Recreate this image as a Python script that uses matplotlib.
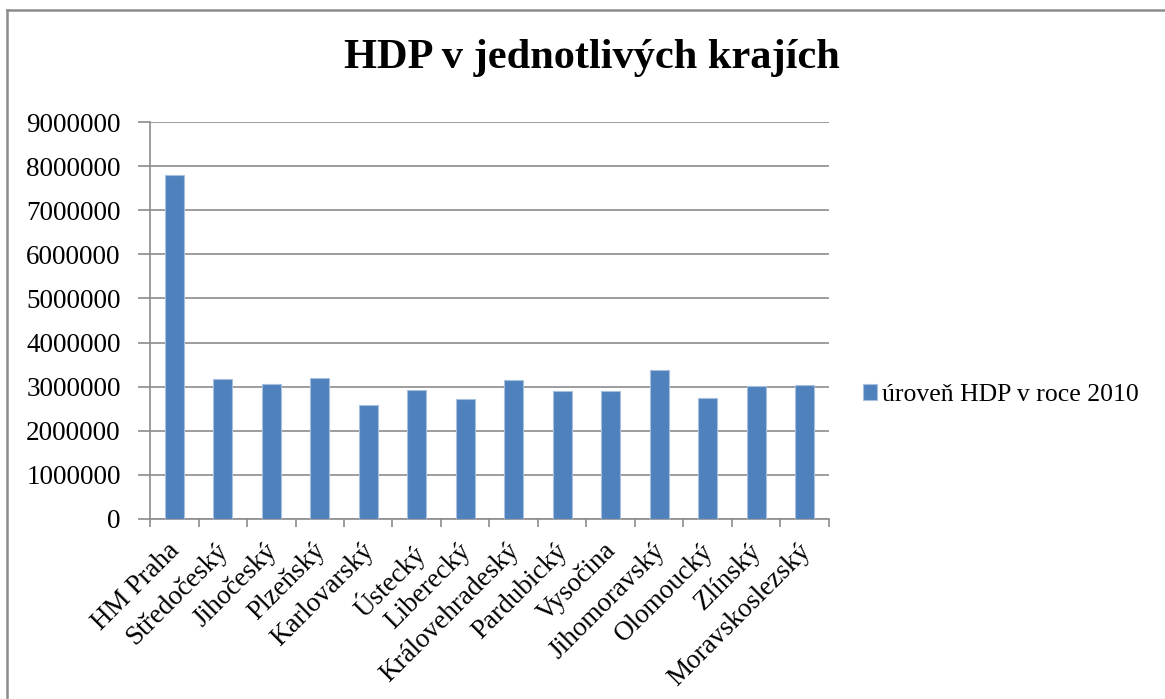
import numpy as np
import matplotlib.pyplot as plt
import matplotlib.transforms as mtransforms
from matplotlib.lines import Line2D

# ---------------- DATA ----------------
kraje = ["HM Praha", "Středočeský", "Jihočeský", "Plzeňský", "Karlovarský",
         "Ústecký", "Liberecký", "Královehradeský", "Pardubický", "Vysočina",
         "Jihomoravský", "Olomoucký", "Zlínský", "Moravskoslezský"]
hdp_2010 = [7790000, 3170000, 3070000, 3190000, 2590000,
            2930000, 2730000, 3150000, 2910000, 2910000,
            3380000, 2740000, 3020000, 3040000]
y_ticks = [0, 1000000, 2000000, 3000000, 4000000, 5000000,
           6000000, 7000000, 8000000, 9000000]

plt.rcParams['font.family'] = ['Liberation Serif', 'DejaVu Serif']

W, H = 1165, 699
fig = plt.figure(figsize=(W / 100, H / 100), dpi=100)
ax = fig.add_axes([150 / W, 1 - 519 / H, (829 - 150) / W, (519 - 122) / H])

x = np.arange(len(kraje))
blue = "#4F81BD"
ax.bar(x, hdp_2010, width=0.4, color=blue, edgecolor="#A7C0DE", linewidth=0.8,
       label="úroveň HDP v roce 2010", zorder=3)

ax.set_xlim(-0.5, len(kraje) - 0.5)
ax.set_ylim(0, 9000000)
ax.set_yticks(y_ticks)
ax.set_yticklabels([str(v) for v in y_ticks], fontsize=19.5)
ax.grid(axis="y", color="#8C8C8C", linewidth=1.2, zorder=0)

# category ticks between bars
ax.set_xticks(np.arange(len(kraje) + 1) - 0.5)
ax.set_xticklabels([])
ax.set_xticks(x, minor=True)
ax.set_xticklabels(kraje, minor=True, rotation=45, ha="right",
                   rotation_mode="anchor", fontsize=19.5)
ax.tick_params(axis="x", which="minor", length=0, pad=14)
ax.tick_params(axis="x", which="major", length=6, color="#8C8C8C", width=1.2)
ax.tick_params(axis="y", length=9, color="#8C8C8C", width=1.2, pad=12)

# nudge the rotated labels a little to the left
shift = mtransforms.ScaledTranslation(-0.07, 0, fig.dpi_scale_trans)
for lbl in ax.get_xticklabels(minor=True):
    lbl.set_transform(lbl.get_transform() + shift)

for s in ["top", "right"]:
    ax.spines[s].set_visible(False)
for s in ["left", "bottom"]:
    ax.spines[s].set_color("#8C8C8C")
    ax.spines[s].set_linewidth(1.2)

fig.text(592 / W, 1 - 58 / H, "HDP v jednotlivých krajích", ha="center",
         va="center", fontsize=30.5, fontweight="bold")

fig.legend(loc="center left", bbox_to_anchor=(840 / W, 1 - 395 / H),
           frameon=False, fontsize=18.5, handlelength=0.55, handleheight=0.55,
           handletextpad=0.2)

# chart frame (top and left edges visible)
fig.lines.append(Line2D([7 / W, 1], [1 - 9.5 / H, 1 - 9.5 / H],
                        transform=fig.transFigure, color="#8C8C8C", linewidth=1.8))
fig.lines.append(Line2D([7 / W, 7 / W], [0, 1 - 9.5 / H],
                        transform=fig.transFigure, color="#8C8C8C", linewidth=1.8))

fig.savefig("out.png", dpi=100)
